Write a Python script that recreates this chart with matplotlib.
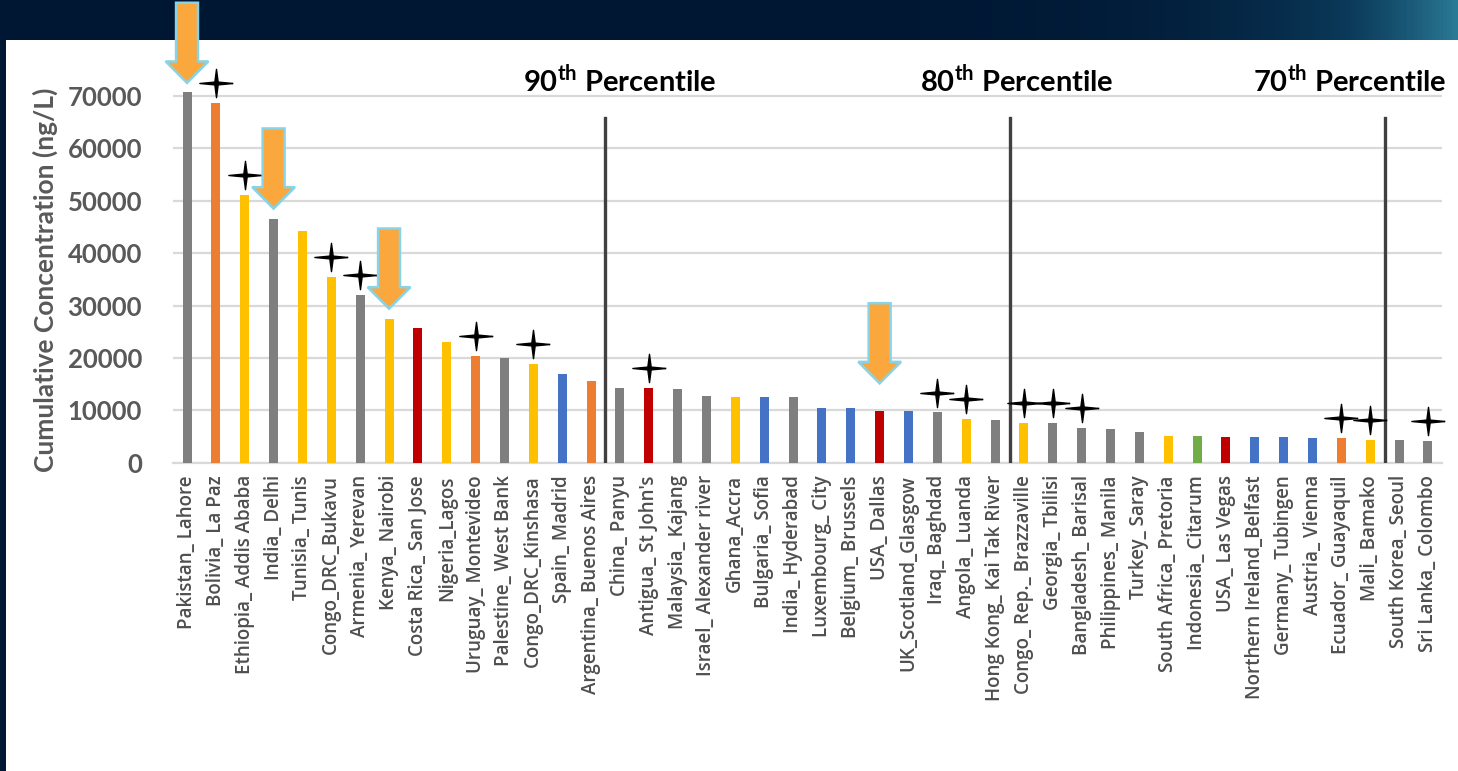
import numpy as np
import matplotlib.pyplot as plt
from matplotlib.colors import LinearSegmentedColormap

# dados
sites = ["Pakistan_ Lahore", "Bolivia_ La Paz", "Ethiopia_ Addis Ababa", "India_ Delhi",
         "Tunisia_ Tunis", "Congo_DRC_Bukavu", "Armenia_ Yerevan", "Kenya_ Nairobi",
         "Costa Rica_ San Jose", "Nigeria_Lagos", "Uruguay_ Montevideo", "Palestine_ West Bank",
         "Congo_DRC_Kinshasa", "Spain_ Madrid", "Argentina_ Buenos Aires", "China_ Panyu",
         "Antigua_ St John's", "Malaysia_ Kajang", "Israel_ Alexander river", "Ghana_Accra",
         "Bulgaria_ Sofia", "India_ Hyderabad", "Luxembourg_ City", "Belgium_ Brussels",
         "USA_ Dallas", "UK_Scotland_Glasgow", "Iraq_ Baghdad", "Angola_ Luanda",
         "Hong Kong_ Kai Tak River", "Congo_ Rep._ Brazzaville", "Georgia_ Tbilisi",
         "Bangladesh_ Barisal", "Philippines_ Manila", "Turkey_ Saray", "South Africa_ Pretoria",
         "Indonesia_ Citarum", "USA_ Las Vegas", "Northern Ireland_Belfast", "Germany_ Tubingen",
         "Austria_ Vienna", "Ecuador_ Guayaquil", "Mali_ Bamako", "South Korea_ Seoul",
         "Sri Lanka_ Colombo"]

conc = [70800, 68700, 51100, 46600, 44300, 35400, 32000, 27500, 25800, 23100,
        20400, 19900, 18800, 16900, 15500, 14300, 14300, 14000, 12800, 12500,
        12500, 12500, 10450, 10450, 9950, 9950, 9600, 8400, 8150, 7600,
        7600, 6700, 6400, 5800, 5150, 5150, 4900, 4900, 4900, 4650,
        4650, 4350, 4350, 4100]

# grupo de cor de cada barra
grupo = ["gray", "orange", "yellow", "gray", "yellow", "yellow", "gray", "yellow", "red", "yellow",
         "orange", "gray", "yellow", "blue", "orange", "gray", "red", "gray", "gray", "yellow",
         "blue", "gray", "blue", "blue", "red", "blue", "gray", "yellow", "gray", "yellow",
         "gray", "gray", "gray", "gray", "yellow", "green", "red", "blue", "blue", "blue",
         "orange", "yellow", "gray", "gray"]

estrelas = ["Bolivia_ La Paz", "Ethiopia_ Addis Ababa", "Congo_DRC_Bukavu", "Armenia_ Yerevan",
            "Uruguay_ Montevideo", "Congo_DRC_Kinshasa", "Antigua_ St John's", "Iraq_ Baghdad",
            "Angola_ Luanda", "Congo_ Rep._ Brazzaville", "Georgia_ Tbilisi",
            "Bangladesh_ Barisal", "Ecuador_ Guayaquil", "Mali_ Bamako", "Sri Lanka_ Colombo"]

setas = ["Pakistan_ Lahore", "India_ Delhi", "Kenya_ Nairobi", "USA_ Dallas"]

percentis = ["90", "80", "70"]
corte_percentil = [14.5, 28.5, 41.5]     # entre quais barras fica a linha

cores = {"gray": "#7F7F7F", "orange": "#ED7D31", "yellow": "#FFC000",
         "red": "#C00000", "blue": "#4472C4", "green": "#70AD47"}

###################################
# figura
###################################

plt.rcParams['font.family'] = ['Lato', 'DejaVu Sans']
plt.rcParams['mathtext.fontset'] = 'custom'
plt.rcParams['mathtext.rm'] = 'Lato'
plt.rcParams['mathtext.bf'] = 'Lato:bold'

W, H = 1458, 771
fig = plt.figure(figsize=(W/100, H/100), dpi=100)
fig.patch.set_facecolor("#001733")

# fundo: painel branco e faixa de cima com degrade
bg = fig.add_axes([0, 0, 1, 1])
grad = np.linspace(0, 1, 400) ** 9
bg.imshow(grad[None, :], aspect='auto', extent=[0, W, 40, 0],
          cmap=LinearSegmentedColormap.from_list("fundo", ["#001733", "#0b3a5a", "#2a7a96"]))
bg.add_patch(plt.Rectangle((6, 40), W - 6, H - 40, facecolor="white", edgecolor="none"))
bg.set_xlim(0, W)
bg.set_ylim(H, 0)
bg.axis('off')

ax = fig.add_axes([172.6/W, 308.3/H, 1269.8/W, 419.1/H])
ax.set_zorder(2)
ax.set_facecolor("none")

x = np.arange(len(sites))
ax.bar(x, conc, width=0.31, color=[cores[g] for g in grupo], zorder=3)

ax.set_xlim(-0.5, len(sites) - 0.5)
ax.set_ylim(0, 80000)
ax.set_yticks(np.arange(0, 70001, 10000))
ax.yaxis.grid(True, color="#D9D9D9", linewidth=1.6, zorder=0)
for s in ["top", "right", "left"]:
    ax.spines[s].set_visible(False)
ax.spines["bottom"].set_color("#D9D9D9")
ax.spines["bottom"].set_linewidth(1.6)

ax.set_xticks(x)
ax.set_xticklabels(sites, rotation=90, fontsize=13.5, color="#4F4F4F",
                   family="Open Sans", fontweight='semibold')
ax.tick_params(axis='x', length=0, pad=9)
ax.tick_params(axis='y', length=0, pad=22, labelsize=18.5, labelcolor="#595959")
for t in ax.get_yticklabels():
    t.set_fontweight('bold')

ax.set_ylabel("Cumulative Concentration (ng/L)", fontsize=19, fontweight='bold', color="#595959")
ax.yaxis.set_label_coords(-0.09, 0.436)

# estrelas de 4 pontas
a = 0.1
estrela = [(1, 0), (a, a * 0.85), (0, 0.85), (-a, a * 0.85), (-1, 0),
           (-a, -a * 0.85), (0, -0.85), (a, -a * 0.85), (1, 0)]
ex = [sites.index(s) for s in estrelas]
ey = [conc[i] + 3800 for i in ex]
ax.plot(ex, ey, linestyle='none', marker=estrela, markersize=24, color="black",
        clip_on=False, zorder=5)

# setas laranja
folga = [1700, 1900, 1900, 5200]
for s, g in zip(setas, folga):
    i = sites.index(s)
    topo = conc[i] + g + 15300
    ax.arrow(i, topo, 0, -15300, width=0.76, head_width=1.48, head_length=4100,
             length_includes_head=True, facecolor="#FAA83D", edgecolor="#86D3EA",
             linewidth=1.8, clip_on=False, zorder=6)

# linhas dos percentis
texto_x = [15.0, 28.75, 40.3]
for p, c, tx in zip(percentis, corte_percentil, texto_x):
    ax.plot([c, c], [0, 65800], color="#404040", linewidth=2.4, zorder=4)
    ax.text(tx, 73000, r"%s$^{\mathbf{th}}$ Percentile" % p, ha='center', va='center',
            fontsize=21, fontweight='bold', color="black")

fig.savefig("out.png", dpi=100, facecolor=fig.get_facecolor())
